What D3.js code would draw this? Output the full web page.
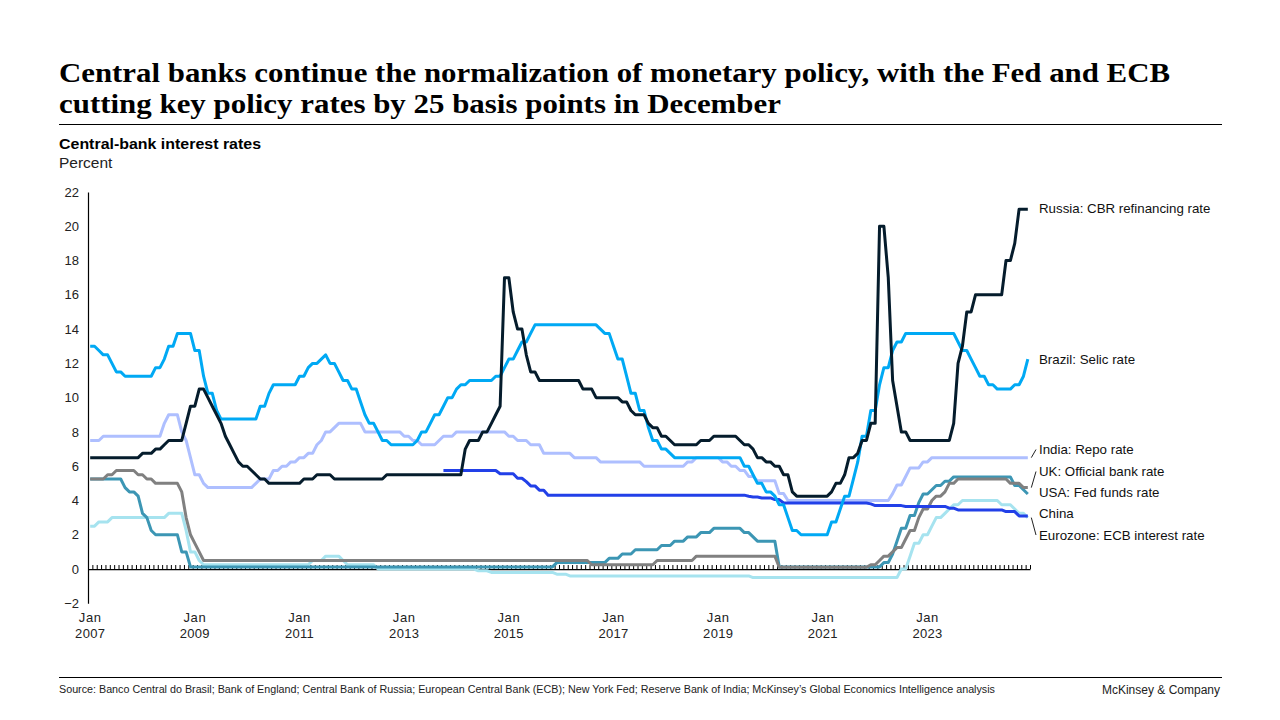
<!DOCTYPE html>
<html><head><meta charset="utf-8">
<script src="https://cdn.jsdelivr.net/npm/d3@7"></script>
<style>
body{margin:0;background:#fff;}
svg{display:block;font-family:"Liberation Sans",Arial,sans-serif;}
</style></head><body>
<svg id="chart" width="1280" height="720"></svg>
<script>
// ---------- DATA (rate change points: [month, percent], held until next change) ----------
const russiaRates = [["2007-01",6.5],["2008-01",6.75],["2008-04",7.0],["2008-06",7.25],["2008-07",7.5],["2008-11",8.5],["2008-12",9.5],["2009-02",10.5],["2009-04",10.0],["2009-05",9.5],["2009-06",9.0],["2009-07",8.5],["2009-08",7.75],["2009-09",7.25],["2009-10",6.75],["2009-11",6.25],["2009-12",6.0],["2010-02",5.75],["2010-03",5.5],["2010-04",5.25],["2010-06",5.0],["2011-02",5.25],["2011-05",5.5],["2011-09",5.25],["2012-09",5.5],["2014-03",7.0],["2014-04",7.5],["2014-07",8.0],["2014-09",8.5],["2014-10",9.0],["2014-11",9.5],["2014-12",17.0],["2015-02",15.0],["2015-03",14.0],["2015-05",12.5],["2015-06",11.5],["2015-08",11.0],["2016-06",10.5],["2016-09",10.0],["2017-03",9.75],["2017-05",9.25],["2017-06",9.0],["2017-09",8.5],["2017-10",8.25],["2017-12",7.75],["2018-02",7.5],["2018-03",7.25],["2018-09",7.5],["2018-12",7.75],["2019-06",7.5],["2019-07",7.25],["2019-09",7.0],["2019-10",6.5],["2019-12",6.25],["2020-02",6.0],["2020-04",5.5],["2020-06",4.5],["2020-07",4.25],["2021-03",4.5],["2021-04",5.0],["2021-06",5.5],["2021-07",6.5],["2021-09",6.75],["2021-10",7.5],["2021-12",8.5],["2022-02",20.0],["2022-04",17.0],["2022-05",11.0],["2022-06",9.5],["2022-07",8.0],["2022-09",7.5],["2023-07",8.5],["2023-08",12.0],["2023-09",13.0],["2023-10",15.0],["2023-12",16.0],["2024-07",18.0],["2024-09",19.0],["2024-10",21.0]];

const brazilRates = [["2007-01",13.0],["2007-03",12.75],["2007-04",12.5],["2007-06",12.0],["2007-07",11.5],["2007-09",11.25],["2008-04",11.75],["2008-06",12.25],["2008-07",13.0],["2008-09",13.75],["2009-01",12.75],["2009-03",11.25],["2009-04",10.25],["2009-06",9.25],["2009-07",8.75],["2010-04",9.5],["2010-06",10.25],["2010-07",10.75],["2011-01",11.25],["2011-03",11.75],["2011-04",12.0],["2011-06",12.25],["2011-07",12.5],["2011-08",12.0],["2011-10",11.5],["2011-11",11.0],["2012-01",10.5],["2012-03",9.75],["2012-04",9.0],["2012-05",8.5],["2012-07",8.0],["2012-08",7.5],["2012-10",7.25],["2013-04",7.5],["2013-05",8.0],["2013-07",8.5],["2013-08",9.0],["2013-10",9.5],["2013-11",10.0],["2014-01",10.5],["2014-02",10.75],["2014-04",11.0],["2014-10",11.25],["2014-12",11.75],["2015-01",12.25],["2015-03",12.75],["2015-04",13.25],["2015-06",13.75],["2015-07",14.25],["2016-10",14.0],["2016-11",13.75],["2017-01",13.0],["2017-02",12.25],["2017-04",11.25],["2017-05",10.25],["2017-07",9.25],["2017-09",8.25],["2017-10",7.5],["2017-12",7.0],["2018-02",6.75],["2018-03",6.5],["2019-07",6.0],["2019-09",5.5],["2019-10",5.0],["2019-12",4.5],["2020-02",4.25],["2020-03",3.75],["2020-05",3.0],["2020-06",2.25],["2020-08",2.0],["2021-03",2.75],["2021-05",3.5],["2021-06",4.25],["2021-08",5.25],["2021-09",6.25],["2021-10",7.75],["2021-12",9.25],["2022-02",10.75],["2022-03",11.75],["2022-05",12.75],["2022-06",13.25],["2022-08",13.75],["2023-08",13.25],["2023-09",12.75],["2023-11",12.25],["2023-12",11.75],["2024-01",11.25],["2024-03",10.75],["2024-05",10.5],["2024-09",10.75],["2024-11",11.25],["2024-12",12.25]];

const indiaRates = [["2007-01",7.5],["2007-04",7.75],["2008-06",8.5],["2008-07",9.0],["2008-10",8.0],["2008-11",7.5],["2008-12",6.5],["2009-01",5.5],["2009-03",5.0],["2009-04",4.75],["2010-03",5.0],["2010-04",5.25],["2010-07",5.75],["2010-09",6.0],["2010-11",6.25],["2011-01",6.5],["2011-03",6.75],["2011-05",7.25],["2011-06",7.5],["2011-07",8.0],["2011-09",8.25],["2011-10",8.5],["2012-04",8.0],["2013-01",7.75],["2013-03",7.5],["2013-05",7.25],["2013-09",7.5],["2013-10",7.75],["2014-01",8.0],["2015-01",7.75],["2015-03",7.5],["2015-06",7.25],["2015-09",6.75],["2016-04",6.5],["2016-10",6.25],["2017-08",6.0],["2018-06",6.25],["2018-08",6.5],["2019-02",6.25],["2019-04",6.0],["2019-06",5.75],["2019-08",5.4],["2019-10",5.15],["2020-03",4.4],["2020-05",4.0],["2022-05",4.4],["2022-06",4.9],["2022-08",5.4],["2022-09",5.9],["2022-12",6.25],["2023-02",6.5]];

const ukRates = [["2007-01",5.25],["2007-05",5.5],["2007-07",5.75],["2007-12",5.5],["2008-02",5.25],["2008-04",5.0],["2008-10",4.5],["2008-11",3.0],["2008-12",2.0],["2009-01",1.5],["2009-02",1.0],["2009-03",0.5],["2016-08",0.25],["2017-11",0.5],["2018-08",0.75],["2020-03",0.1],["2021-12",0.25],["2022-02",0.5],["2022-03",0.75],["2022-05",1.0],["2022-06",1.25],["2022-08",1.75],["2022-09",2.25],["2022-11",3.0],["2022-12",3.5],["2023-02",4.0],["2023-03",4.25],["2023-05",4.5],["2023-06",5.0],["2023-08",5.25],["2024-08",5.0],["2024-11",4.75]];

const usaRates = [["2007-01",5.25],["2007-09",4.75],["2007-10",4.5],["2007-12",4.25],["2008-01",3.25],["2008-02",3.0],["2008-03",2.25],["2008-04",2.0],["2008-10",1.0],["2008-12",0.125],["2015-12",0.375],["2016-12",0.625],["2017-03",0.875],["2017-06",1.125],["2017-12",1.375],["2018-03",1.625],["2018-06",1.875],["2018-09",2.125],["2018-12",2.375],["2019-07",2.125],["2019-09",1.875],["2019-10",1.625],["2020-03",0.125],["2022-03",0.375],["2022-05",0.875],["2022-06",1.625],["2022-07",2.375],["2022-09",3.125],["2022-11",3.875],["2022-12",4.375],["2023-02",4.625],["2023-03",4.875],["2023-05",5.125],["2023-07",5.375],["2024-09",4.875],["2024-11",4.625],["2024-12",4.375]];

const chinaRates = [["2013-10",5.75],["2014-11",5.56],["2015-03",5.3],["2015-05",5.1],["2015-06",4.85],["2015-08",4.6],["2015-10",4.31],["2019-08",4.25],["2019-09",4.2],["2019-11",4.15],["2020-02",4.05],["2020-04",3.85],["2021-12",3.8],["2022-01",3.7],["2022-08",3.65],["2023-06",3.55],["2023-08",3.45],["2024-07",3.35],["2024-10",3.1]];

const eurozoneRates = [["2007-01",2.5],["2007-03",2.75],["2007-06",3.0],["2008-07",3.25],["2008-11",2.25],["2008-12",1.0],["2009-02",0.5],["2009-03",0.25],["2011-04",0.5],["2011-07",0.75],["2011-11",0.5],["2011-12",0.25],["2012-07",0.0],["2014-06",-0.1],["2014-09",-0.2],["2015-12",-0.3],["2016-03",-0.4],["2019-09",-0.5],["2022-07",0.0],["2022-09",0.75],["2022-10",1.5],["2022-12",2.0],["2023-02",2.5],["2023-03",3.0],["2023-05",3.25],["2023-06",3.5],["2023-07",3.75],["2023-09",4.0],["2024-06",3.75],["2024-09",3.5],["2024-10",3.25],["2024-12",3.0]];

const seriesLabels = ["Eurozone: ECB interest rate","India: Repo rate","USA: Fed funds rate","UK: Official bank rate","China","Brazil: Selic rate","Russia: CBR refinancing rate"];
const seriesData = [eurozoneRates, indiaRates, usaRates, ukRates, chinaRates, brazilRates, russiaRates];
const xLabelYears = ["2007","2009","2011","2013","2015","2017","2019","2021","2023"];
const yTickValues = [22,20,18,16,14,12,10,8,6,4,2,0,-2];
const lastMonth = "2024-12";

// ---------- STYLE / LAYOUT ----------
const seriesColors = ["#a6e3ef","#aebfff","#3c96b4","#808080","#2240e8","#00a9f4","#051c2c"];
// label vertical position and leader flag, same order as seriesLabels
const labelLayout = [
  {ly:535, leader:true}, {ly:449.5, leader:true}, {ly:492.5, leader:false},
  {ly:471.5, leader:true}, {ly:513.5, leader:false}, {ly:359.5, leader:false}, {ly:208.5, leader:false}
];

const svg = d3.select("#chart");
const ink = "#000";

function monthIndex(s){ const p = s.split("-").map(Number); return (p[0]-2007)*12 + (p[1]-1); }
function expand(changes){
  const out = []; const end = monthIndex(lastMonth); let j = 0;
  for (let m = monthIndex(changes[0][0]); m <= end; m++){
    while (j+1 < changes.length && monthIndex(changes[j+1][0]) <= m) j++;
    out.push({m:m, v:changes[j][1]});
  }
  return out;
}

const x = d3.scaleLinear().domain([0,216]).range([88,1030]);
const y = d3.scaleLinear().domain([-2,22]).range([603.3,192]);

// ---------- Title block ----------
const title = svg.append("g").attr("font-family","'Liberation Serif','Times New Roman',serif").attr("font-weight","bold").attr("fill",ink);
title.append("text").attr("x",59).attr("y",82).attr("font-size",28)
  .attr("textLength",1111).attr("lengthAdjust","spacingAndGlyphs")
  .text("Central banks continue the normalization of monetary policy, with the Fed and ECB");
title.append("text").attr("x",59).attr("y",113).attr("font-size",28)
  .attr("textLength",722).attr("lengthAdjust","spacingAndGlyphs")
  .text("cutting key policy rates by 25 basis points in December");
svg.append("line").attr("x1",59).attr("x2",1222).attr("y1",124.5).attr("y2",124.5).attr("stroke",ink).attr("stroke-width",1);

svg.append("text").attr("x",59).attr("y",149).attr("font-size",15.5).attr("font-weight","bold").attr("fill",ink)
  .attr("textLength",202).attr("lengthAdjust","spacingAndGlyphs").text("Central-bank interest rates");
svg.append("text").attr("x",59).attr("y",168).attr("font-size",15.5).attr("fill","#222").text("Percent");

// ---------- Axes ----------
const yAxis = d3.axisLeft(y).tickValues(yTickValues).tickSize(0).tickSizeOuter(0).tickPadding(9)
  .tickFormat(d => d < 0 ? "\u2212" + (-d) : String(d));
const gy = svg.append("g").attr("transform","translate(88,0)").call(yAxis);
gy.select(".domain").attr("stroke",ink).attr("stroke-width",1.2);
gy.selectAll("text").attr("font-size",13).attr("fill","#222").attr("font-family","'Liberation Sans',Arial,sans-serif");

const xAxis = d3.axisTop(x).tickValues(d3.range(1,217)).tickSize(4).tickSizeOuter(0).tickFormat("");
const gx = svg.append("g").attr("transform",`translate(0,${y(0)})`).call(xAxis);
gx.select(".domain").attr("stroke",ink).attr("stroke-width",1.2);
gx.selectAll(".tick line").attr("stroke",ink).attr("stroke-width",1);

const xl = svg.append("g").attr("font-size",13).attr("fill","#222").attr("text-anchor","middle");
xLabelYears.forEach(yr => {
  const cx = x(monthIndex(yr+"-01") + 0.5);
  const t = xl.append("text").attr("x",cx).attr("y",622);
  t.append("tspan").attr("x",cx).attr("letter-spacing",0.6).text("Jan");
  t.append("tspan").attr("x",cx).attr("dy",16).attr("letter-spacing",0.3).text(yr);
});

// ---------- Lines ----------
const line = d3.line().x(d => x(d.m + 0.5)).y(d => y(d.v));
const gl = svg.append("g");
seriesData.forEach((s,i) => {
  gl.append("path").datum(expand(s)).attr("d",line).attr("fill","none")
    .attr("stroke",seriesColors[i]).attr("stroke-width",3)
    .attr("stroke-linejoin","round").attr("stroke-linecap","butt");
});

// ---------- Labels ----------
const glab = svg.append("g").attr("font-size",13.3).attr("fill","#111");
seriesData.forEach((s,i) => {
  const pts = expand(s); const last = pts[pts.length-1];
  const lx = 1039, ly = labelLayout[i].ly;
  if (labelLayout[i].leader){
    glab.append("line").attr("x1",x(last.m+0.5)+3.5).attr("y1",y(last.v))
      .attr("x2",lx-3).attr("y2",ly).attr("stroke","#222").attr("stroke-width",1);
  }
  glab.append("text").attr("x",lx).attr("y",ly).attr("dy","0.35em").text(seriesLabels[i]);
});

// ---------- Footer ----------
svg.append("line").attr("x1",59).attr("x2",1222).attr("y1",677.5).attr("y2",677.5).attr("stroke",ink).attr("stroke-width",1);
svg.append("text").attr("x",59).attr("y",693).attr("font-size",10).attr("fill","#222")
  .attr("textLength",936).attr("lengthAdjust","spacingAndGlyphs")
  .text("Source: Banco Central do Brasil; Bank of England; Central Bank of Russia; European Central Bank (ECB); New York Fed; Reserve Bank of India; McKinsey\u2019s Global Economics Intelligence analysis");
svg.append("text").attr("x",1220).attr("y",694).attr("font-size",12).attr("fill","#222").attr("text-anchor","end").text("McKinsey & Company");
</script>
</body></html>
